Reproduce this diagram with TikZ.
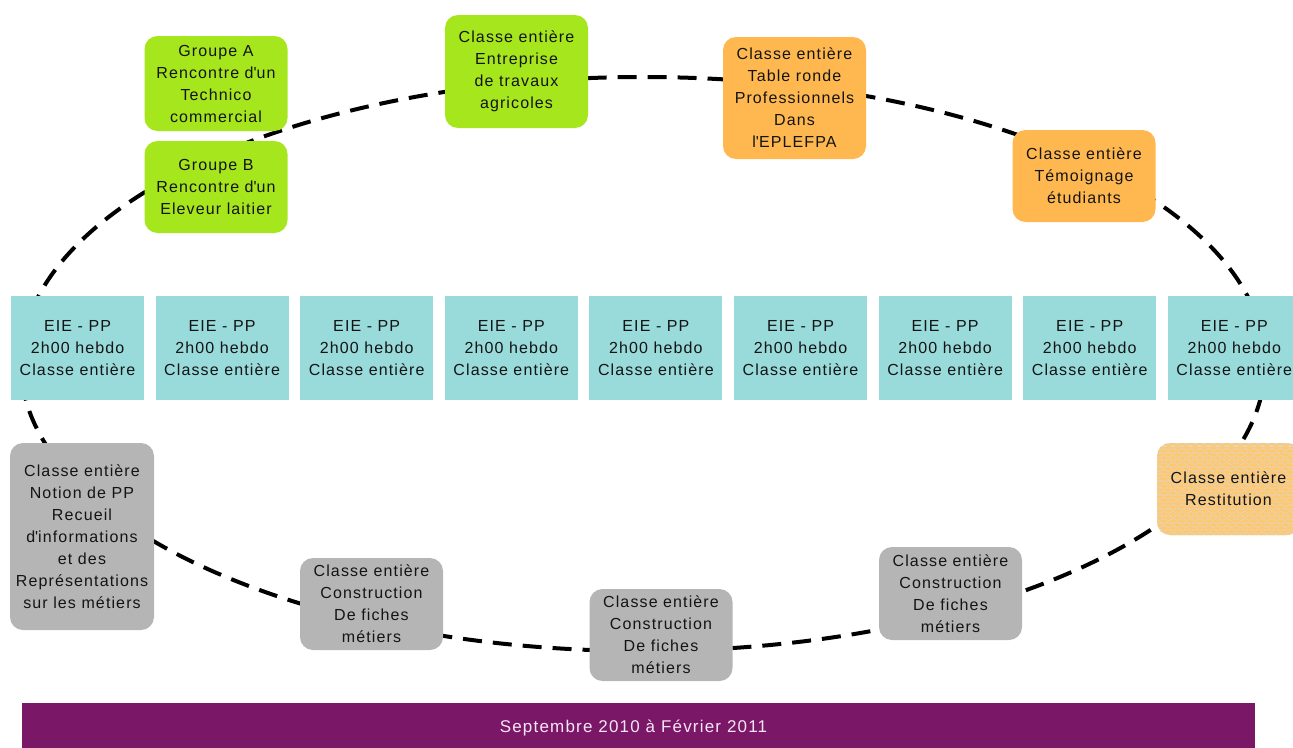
\documentclass[tikz,border=0pt]{standalone}
\usepackage{fontspec}
\setmainfont{Liberation Sans}[LetterSpace=7]
\usetikzlibrary{decorations.pathmorphing}
\definecolor{limeg}{RGB}{166,230,29}
\definecolor{orangeb}{RGB}{255,184,79}
\definecolor{cyanb}{RGB}{153,218,219}
\definecolor{grayb}{RGB}{181,181,181}
\definecolor{restg}{RGB}{216,216,216}
\definecolor{wavec}{RGB}{255,200,110}
\definecolor{purpleb}{RGB}{123,23,103}
\definecolor{txt}{RGB}{20,20,20}
\newcommand{\apos}{\textquotesingle}
\begin{document}
\begin{tikzpicture}[x=1pt,y=-1pt,
  font=\fontsize{16}{22}\selectfont,
  box/.style={rounded corners=13pt, inner sep=0pt, align=center, text=txt, minimum width=143pt},
  greenbox/.style={box, fill=limeg},
  orangebox/.style={box, fill=orangeb},
  graybox/.style={box, fill=grayb},
  eiebox/.style={inner sep=0pt, align=center, text=txt, fill=cyanb, minimum width=133pt, minimum height=104pt},
  dashline/.style={line width=4pt, dash pattern=on 19pt off 11pt, black}
]
\useasboundingbox (0,0) rectangle (1293,747);
\clip (0,0) rectangle (1293,747);

\draw[dashline] (643,364) ellipse [x radius=622, y radius=287];

\node[greenbox, minimum height=95pt] (ga) at (216,83.5) {Groupe A\\Rencontre d\apos un\\Technico\\commercial};
\node[greenbox, minimum height=92pt] (gb) at (216,187) {Groupe B\\Rencontre d\apos un\\Eleveur laitier};
\node[greenbox, minimum height=113pt] (ent) at (516.5,71.5) {Classe entière\\Entreprise\\de travaux\\agricoles};
\node[orangebox, minimum height=122pt] (tab) at (794.5,98) {Classe entière\\Table ronde\\Professionnels\\Dans\\l\apos EPLEFPA};
\node[orangebox, minimum height=92pt] (temo) at (1084,176) {Classe entière\\Témoignage\\étudiants};

\foreach \i in {0,...,8}{
  \node[eiebox] (eie\i) at ({77.5+144.6*\i},348) {EIE - PP\\2h00 hebdo\\Classe entière};
}

\node[box, minimum height=92pt, fill=restg,
  path picture={
    \foreach \k in {0,...,14}{
      \draw[wavec, line width=0.6pt, decorate, decoration={snake, segment length=9pt, amplitude=1.5pt}]
        ([xshift=-5pt,yshift={-3pt-\k*7pt}]path picture bounding box.north west) -- ++(160pt,0pt);
    }
  }] (rest) at (1228.5,489) {Classe entière\\Restitution};

\node[graybox, minimum width=144pt, minimum height=187pt] (notion) at (82,536.5) {Classe entière\\Notion de PP\\Recueil\\d\apos informations\\et des\\Représentations\\sur les métiers};
\node[graybox, minimum height=92pt] (c1) at (371.5,604) {Classe entière\\Construction\\De fiches\\métiers};
\node[graybox, minimum height=92pt] (c2) at (661,635) {Classe entière\\Construction\\De fiches\\métiers};
\node[graybox, minimum height=93pt] (c3) at (950.5,593.5) {Classe entière\\Construction\\De fiches\\métiers};

\node[fill=purpleb, inner sep=0pt, minimum width=1233pt, minimum height=50pt, font=\fontsize{17}{22}\selectfont, text={rgb,255:red,245;green,230;blue,245}] (bar) at (638.5,728) {Septembre 2010 à Février 2011\hspace*{10pt}};
\end{tikzpicture}
\end{document}
